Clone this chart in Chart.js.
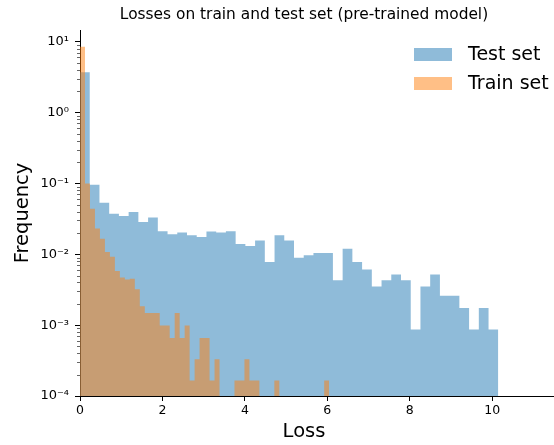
<!DOCTYPE html>
<html>
<head>
<meta charset="utf-8">
<script src="https://cdn.jsdelivr.net/npm/chart.js@4/dist/chart.umd.min.js"></script>
<style>
  html, body { margin: 0; padding: 0; background: #fff; }
</style>
</head>
<body>
<canvas id="myChart" width="554" height="445"></canvas>
<script>
let chartTitle = 'Losses on train and test set (pre-trained model)';
let xAxisLabel = 'Loss';

// density histograms, one value per bin, bins start at loss 0
let testLabel = 'Test set';
let testBinWidth = 0.236;
let testValues = [3.7, 0.096, 0.0535, 0.0374, 0.0346, 0.0394, 0.0285, 0.0329, 0.0211, 0.0191,
  0.0202, 0.0185, 0.0175, 0.0209, 0.0202, 0.0211, 0.0140, 0.0131, 0.0157, 0.0078,
  0.0185, 0.0157, 0.0089, 0.0097, 0.0104, 0.0104, 0.0043, 0.0120, 0.0078, 0.0061,
  0.0035, 0.0043, 0.0052, 0.0043, 0.00087, 0.0035, 0.0052, 0.0026, 0.0026, 0.00175,
  0.00087, 0.00175, 0.00087];

let trainLabel = 'Train set';
let trainBinWidth = 0.1209;
let trainValues = [8.5, 0.1, 0.044, 0.023, 0.0166, 0.0108, 0.0092, 0.0058, 0.0047, 0.0044,
  0.0045, 0.0032, 0.00185, 0.00148, 0.00148, 0.00148, 0.00099, 0.00099, 0.00066, 0.00148,
  0.00066, 0.00099, 0.000165, 0.00033, 0.00066, 0.00066, 0.000165, 0.00033, 0, 0,
  0, 0.000165, 0.000165, 0.00033, 0.000165, 0.000165, 0, 0, 0, 0.000165,
  0, 0, 0, 0, 0, 0, 0, 0, 0, 0.000165];

let yMin = 1e-4;
let yMax = 14.6;
let yTickExps = [-4, -3, -2, -1, 0, 1];
let yTickLabels = ['10⁻⁴', '10⁻³', '10⁻²', '10⁻¹', '10⁰', '10¹'];

let testColor = 'rgba(31, 119, 180, 0.5)';
let trainColor = 'rgba(255, 127, 14, 0.5)';

Chart.defaults.font.family = "'DejaVu Sans', sans-serif";
Chart.defaults.color = '#000';

// bin edges -> step points (empty bins sit on the axis floor)
function toSteps(values, width) {
    let pts = values.map((v, i) => ({x: i * width, y: v > 0 ? v : yMin}));
    pts.push({x: values.length * width, y: yMin});
    return pts;
}

let decor = {
    id: 'decor',
    afterDraw(chart) {
        let ctx = chart.ctx;
        let area = chart.chartArea;
        let yScale = chart.scales.y;
        ctx.save();

        // minor ticks of the log axis
        ctx.strokeStyle = '#000';
        ctx.lineWidth = 0.6;
        for (let e = yTickExps[0]; e < yTickExps[yTickExps.length - 1]; e++) {
            for (let k = 2; k < 10; k++) {
                let py = Math.round(yScale.getPixelForValue(k * Math.pow(10, e))) + 0.5;
                ctx.beginPath();
                ctx.moveTo(area.left - 3, py);
                ctx.lineTo(area.left, py);
                ctx.stroke();
            }
        }

        // title and x label, centred like the original figure
        ctx.fillStyle = '#000';
        ctx.textAlign = 'center';
        ctx.textBaseline = 'middle';
        ctx.font = '15.4px "DejaVu Sans"';
        ctx.fillText(chartTitle, 304, 15);
        ctx.font = '19.5px "DejaVu Sans"';
        ctx.fillText(xAxisLabel, 304, 432);

        // legend
        ctx.font = '19px "DejaVu Sans"';
        ctx.textAlign = 'left';
        chart.data.datasets.forEach((ds, i) => {
            let top = area.top + 18 + i * 29;
            ctx.fillStyle = ds.backgroundColor;
            ctx.fillRect(area.right - 140, top, 38, 13);
            ctx.fillStyle = '#000';
            ctx.fillText(ds.label, area.right - 86, top + 7);
        });
        ctx.restore();
    }
};

let myChart = document.getElementById('myChart').getContext('2d');

let chart = new Chart(myChart, {
    type: 'line',
    data: {
        datasets: [{
            label: testLabel,
            data: toSteps(testValues, testBinWidth),
            backgroundColor: testColor,
            borderColor: 'transparent',
            borderWidth: 0,
            pointRadius: 0,
            stepped: true,
            fill: 'start',
            order: 1
        }, {
            label: trainLabel,
            data: toSteps(trainValues, trainBinWidth),
            backgroundColor: trainColor,
            borderColor: 'transparent',
            borderWidth: 0,
            pointRadius: 0,
            stepped: true,
            fill: 'start',
            order: 0
        }]
    },
    options: {
        responsive: false,
        animation: false,
        layout: {padding: {top: 30, left: 0, right: 0, bottom: 0}},
        plugins: {
            legend: {display: false},
            tooltip: {enabled: false},
            title: {display: false}
        },
        scales: {
            x: {
                type: 'linear',
                min: 0,
                max: 11.5,
                border: {color: '#000', width: 1},
                grid: {drawOnChartArea: false, tickLength: 5, tickColor: '#000'},
                ticks: {stepSize: 2, includeBounds: false, maxRotation: 0, padding: 2, font: {size: 12.5}},
                afterFit: s => { s.height = 49; }
            },
            y: {
                type: 'logarithmic',
                min: yMin,
                max: yMax,
                border: {color: '#000', width: 1},
                grid: {drawOnChartArea: false, tickLength: 5, tickColor: '#000'},
                afterBuildTicks: s => { s.ticks = yTickExps.map(e => ({value: Math.pow(10, e)})); },
                ticks: {autoSkip: false, padding: 6, font: {size: 13}, callback: (v, i) => yTickLabels[i]},
                title: {display: true, text: 'Frequency', font: {size: 19.5}, padding: {top: 11, bottom: 0}},
                afterFit: s => { s.width = 80; }
            }
        }
    },
    plugins: [decor]
});
</script>
</body>
</html>
